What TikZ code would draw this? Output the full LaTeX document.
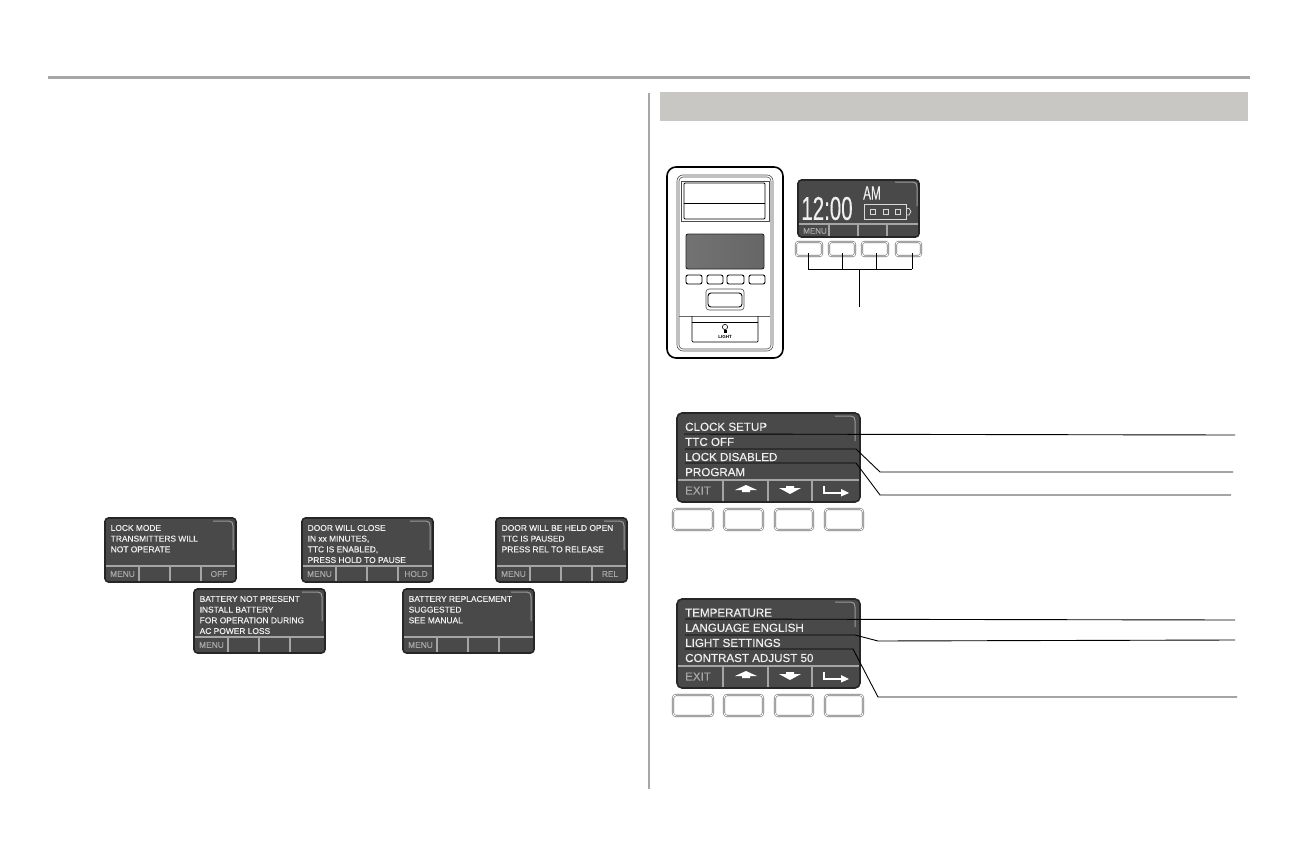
\documentclass[tikz,border=0pt]{standalone}
\usepackage{fontspec}
\usepackage{graphicx}
\usepackage{xcolor}
\setmainfont{Liberation Sans}
\newfontfamily\lcdfont[FakeBold=0.25]{Liberation Sans}
\usetikzlibrary{calc,positioning}

\definecolor{lcdbg}{HTML}{4A4949}
\definecolor{lcdtxt}{HTML}{F0F0F0}
\definecolor{softtxt}{HTML}{A8A8A8}
\definecolor{barline}{HTML}{A5A5A5}
\definecolor{rulegray}{HTML}{A6A6A6}
\definecolor{bandgray}{HTML}{C9C7C4}

\tikzset{
  bezel/.style={draw=black!85,fill=lcdbg,line width=1.6pt,rounded corners=3.5pt},
  softline/.style={draw=barline,line width=1.5pt},
  gloss/.style={draw=black!40,line width=1pt},
  softlabel/.style={inner sep=0pt,text=softtxt},
  lcdlines/.style={inner sep=0pt,anchor=north west,align=left,text=lcdtxt},
  softbtn/.style={draw=black!55,double=white,double distance=0.9pt,line width=0.6pt,rounded corners=3pt},
  thinbtn/.style={draw=black,line width=0.9pt,rounded corners=2pt},
  leader/.style={draw=black,line width=0.9pt}
}

% message screen, 131 by 64
\newcommand{\smallscreen}[5]{
  \begin{scope}[shift={(#2,#3)}]
    \draw[bezel] (0,0) rectangle (131,64);
    \draw[gloss] (108,3) -- (124,3) .. controls (127,3) and (128,5) .. (128,8) -- (128,32);
    \draw[softline] (1,48) -- (130,48);
    \foreach \k in {34,65,96} \draw[softline] (\k,48) -- (\k,63);
    \node[lcdlines,font=\lcdfont\fontsize{8.4}{10.7}\selectfont] (#1text) at (5.5,6.8) {#4};
    \node[softlabel,font=\lcdfont\fontsize{8.4}{10}\selectfont] (#1menu) at (17.5,56) {MENU};
    \node[softlabel,font=\lcdfont\fontsize{8.4}{10}\selectfont] (#1key) at (114,56) {#5};
  \end{scope}
}

% setup screen with its row of keys, 183 by 89
\newcommand{\bigscreen}[3]{
  \begin{scope}[shift={(677,#2)}]
    \draw[bezel,rounded corners=5pt] (0,0) rectangle (183,89);
    \draw[gloss] (158,3) -- (174,3) .. controls (177,3) and (178,5) .. (178,8) -- (178,28);
    \draw[softline] (1,67) -- (182,67);
    \foreach \k in {46,91,135} \draw[softline] (\k,67) -- (\k,88);
    \node[lcdlines,font=\lcdfont\fontsize{11.6}{15.1}\selectfont] (#1text) at (8,9.5) {#3};
    \node[softlabel,font=\lcdfont\fontsize{11.6}{12}\selectfont] (#1exit) at (21,77.5) {EXIT};
    % soft key arrows
    \fill[white] (58,77) -- (69,72) -- (80,77) -- (73,77) -- (73,79) -- (65,79) -- (65,77) -- cycle;
    \fill[white] (102,75) -- (109,75) -- (109,73) -- (117,73) -- (117,75) -- (124,75) -- (113,81) -- cycle;
    \draw[white,line width=1.4pt] (147,73) -- (147,80) -- (165,80);
    \fill[white] (164,76) -- (172,80) -- (164,83.5) -- cycle;
    % keys
    \foreach \nm/\a/\b in {a/-4/36,b/47/86,c/98/136,d/148/186}
      \draw[softbtn] (\a,96) rectangle (\b,117) coordinate (#1key\nm);
  \end{scope}
}

\begin{document}
\begin{tikzpicture}[x=1pt,y=-1pt,line width=0.4pt]
  \useasboundingbox (0,0) rectangle (1296,864);

  % Page furniture
  \draw[rulegray,line width=3pt] (48,78) -- (1250,78);
  \draw[rulegray,line width=1.6pt] (649,93) -- (649,789);
  \fill[bandgray] (660,92) rectangle (1248,121);

  % Messages
  \smallscreen{lock}{105}{518}{LOCK MODE\\TRANSMITTERS WILL\\NOT OPERATE}{OFF}
  \smallscreen{ttc}{302}{518}{DOOR WILL CLOSE\\IN xx MINUTES,\\TTC IS ENABLED,\\PRESS HOLD TO PAUSE}{HOLD}
  \smallscreen{held}{496}{518}{DOOR WILL BE HELD OPEN\\TTC IS PAUSED\\PRESS REL TO RELEASE}{REL}
  \smallscreen{nobatt}{194}{589}{BATTERY NOT PRESENT\\INSTALL BATTERY\\FOR OPERATION DURING\\AC POWER LOSS}{}
  \smallscreen{replace}{403}{589}{BATTERY REPLACEMENT\\SUGGESTED\\SEE MANUAL}{}

  % Wall control
  \draw[draw=black,line width=1.6pt,rounded corners=9pt] (667,167) rectangle (783,358);
  \draw[black!70,rounded corners=6pt,line width=0.6pt] (677,175) rectangle (773,351);
  \draw[black!70,rounded corners=4pt,line width=0.6pt] (679,177) rectangle (771,349);
  \draw[black!70,line width=0.6pt] (681,181) rectangle (769,221);
  \draw[black,line width=0.8pt,rounded corners=1pt] (684,183) rectangle (765,219);
  \draw[black,line width=0.8pt] (684,203) -- (765,203);
  \shade[left color=black!55,middle color=black!28,right color=black!60,rounded corners=2pt]
    (686,234) rectangle (764,269);
  \draw[black!85,line width=0.9pt,rounded corners=2pt] (686,234) rectangle (764,269);
  \foreach \a/\b in {686/702,707/723,727/744,749/765}
    \draw[thinbtn] (\a,275) rectangle (\b,284);
  \draw[black!70,rounded corners=3pt,line width=0.6pt] (706,289) rectangle (744,310);
  \draw[black,rounded corners=3pt,line width=0.9pt] (708,293) rectangle (742,307);
  \draw[black!60,line width=0.6pt] (679,316) -- (770,316);
  \draw[black,line width=0.7pt,rounded corners=1pt] (692,316) -- (692,342) -- (758,342) -- (758,316);
  \draw[black,line width=0.7pt] (692,322) -- (758,322);
  \draw[black,line width=0.6pt] (725,327) circle (2.6pt);
  \fill[black] (723.5,330) rectangle (726.5,333);
  \node[inner sep=0pt,font=\fontsize{4.5}{5}\selectfont\bfseries] (lightlbl) at (725,337) {LIGHT};

  % Home screen
  \draw[bezel] (798,180) rectangle (919,237);
  \draw[gloss] (895,182) -- (913,182) .. controls (916,182) and (917,184) .. (917,187) -- (917,206);
  \draw[softline] (799,224) -- (918,224);
  \foreach \k in {829,858,887} \draw[softline] (\k,224) -- (\k,236);
  \node[inner sep=0pt,text=lcdtxt,font=\lcdfont\fontsize{33}{33}\selectfont] (clock) at (827,208.5) {\scalebox{0.62}[1]{12:00}};
  \node[inner sep=0pt,text=lcdtxt,font=\lcdfont\fontsize{19}{19}\selectfont] (ampm) at (872,193) {\scalebox{0.62}[1]{AM}};
  \node[softlabel,font=\lcdfont\fontsize{8}{9}\selectfont] (homemenu) at (815,231) {MENU};
  \draw[black!15,line width=0.8pt] (864,204) rectangle (906,219.5);
  \draw[black!15,line width=0.8pt] (906,208.5) -- (909,208.5) -- (911,211.5) -- (909,215) -- (906,215);
  \foreach \k in {873,886,898} \draw[black!15,line width=0.8pt] (\k-2.5,209) rectangle (\k+2.5,214.5);

  % Keys under the home screen
  \foreach \nm/\a/\b/\c in {one/796/822/808,two/829/855/842,three/862/888/876,four/896/921/912}{
    \draw[softbtn,rounded corners=2.5pt] (\a,242) rectangle (\b,256);
    \coordinate (\nm-up) at (\c,253);
    \coordinate (\nm-low) at (\c,269);
    \draw[leader] (\nm-up) -- (\nm-low);
  }
  \coordinate (stem) at (859,269);
  \coordinate (stem-end) at (859,307);
  \draw[leader] (one-low) -- (four-low);
  \draw[leader] (stem) -- (stem-end);

  % Setup screens
  \bigscreen{clockset}{413}{CLOCK SETUP\\TTC OFF\\LOCK DISABLED\\PROGRAM}
  \bigscreen{langset}{599}{TEMPERATURE\\LANGUAGE ENGLISH\\LIGHT SETTINGS\\CONTRAST ADJUST 50}

  % Leaders from the rows
  \coordinate (ra) at (684,434);   \coordinate (rax) at (1235,435);
  \coordinate (rb) at (685,449);   \coordinate (rbm) at (856,449);
  \coordinate (rbn) at (880,472);  \coordinate (rbx) at (1233,472);
  \coordinate (rc) at (685,463);   \coordinate (rcm) at (856,463);
  \coordinate (rcn) at (880,495);  \coordinate (rcx) at (1231,495);
  \draw[leader] (ra) -- (rax);
  \draw[leader] (rb) -- (rbm) -- (rbn) -- (rbx);
  \draw[leader] (rc) -- (rcm) -- (rcn) -- (rcx);

  \coordinate (sa) at (685,619);   \coordinate (sax) at (1235,620);
  \coordinate (sb) at (685,635);   \coordinate (sbm) at (855,635);
  \coordinate (sbn) at (878,641);  \coordinate (sbx) at (1235,640);
  \coordinate (sc) at (685,649);   \coordinate (scm) at (853,649);
  \coordinate (scn) at (878,697);  \coordinate (scx) at (1237,697);
  \draw[leader] (sa) -- (sax);
  \draw[leader] (sb) -- (sbm) -- (sbn) -- (sbx);
  \draw[leader] (sc) -- (scm) -- (scn) -- (scx);
\end{tikzpicture}
\end{document}
